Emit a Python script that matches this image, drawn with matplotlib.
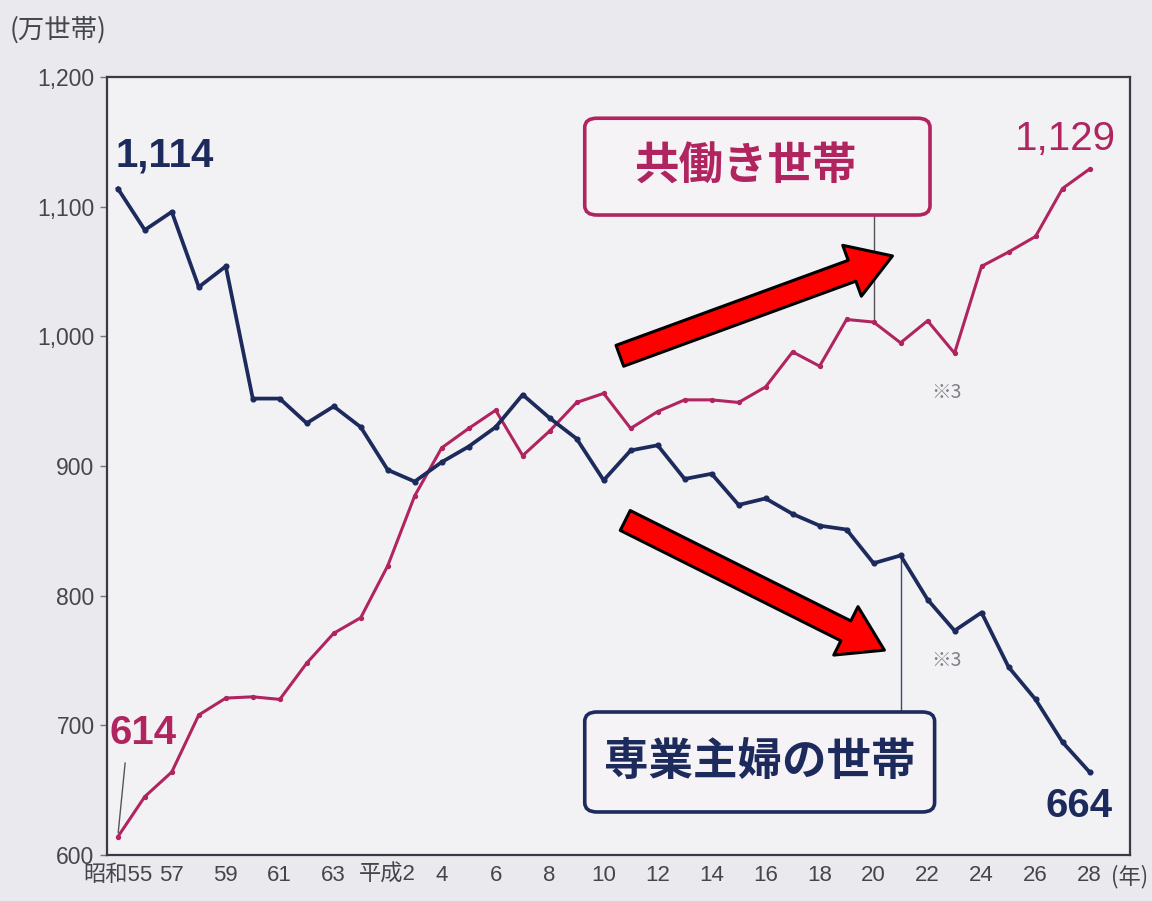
import matplotlib
matplotlib.use("Agg")
import matplotlib.pyplot as plt
from matplotlib import font_manager
from matplotlib.patches import FancyBboxPatch

# ---- data (万世帯) ----
years = list(range(37))  # 昭和55 (1980) .. 平成28 (2016)
dual_income = [614, 645, 664, 708, 721, 722, 720, 748, 771, 783, 823, 877, 914, 929,
               943, 908, 927, 949, 956, 929, 942, 951, 951, 949, 961, 988, 977, 1013,
               1011, 995, 1012, 987, 1054, 1065, 1077, 1114, 1129]
housewife = [1114, 1082, 1096, 1038, 1054, 952, 952, 933, 946, 930, 897, 888, 903, 915,
             930, 955, 937, 921, 889, 912, 916, 890, 894, 870, 875, 863, 854, 851,
             825, 831, 797, 773, 787, 745, 720, 687, 664]
tick_pos = list(range(0, 37, 2))
tick_labels = ["昭和55", "57", "59", "61", "63", "平成2", "4", "6", "8", "10", "12",
               "14", "16", "18", "20", "22", "24", "26", "28"]
y_ticks = [600, 700, 800, 900, 1000, 1100, 1200]
y_tick_labels = ["600", "700", "800", "900", "1,000", "1,100", "1,200"]

NAVY = "#1c2a5c"
MAGENTA = "#b0245f"
GREY = "#45454c"

available = {f.name for f in font_manager.fontManager.ttflist}
narrow = "Liberation Sans Narrow" if "Liberation Sans Narrow" in available else "Liberation Sans"
big_size = 34 if narrow == "Liberation Sans Narrow" else 29
JP = "Noto Sans CJK JP"
plt.rcParams["font.family"] = ["Liberation Sans", JP, "DejaVu Sans"]

fig = plt.figure(figsize=(11.52, 9.01), dpi=100, facecolor="#e9e9ee")
ax = fig.add_axes([107 / 1152, 1 - 855 / 901, 1023 / 1152, 778 / 901])
ax.set_facecolor("#f2f2f5")

ax.plot(years, housewife, color=NAVY, lw=2.7, marker="o", ms=3.4, zorder=4)
ax.plot(years, dual_income, color=MAGENTA, lw=2.2, marker="o", ms=2.8, zorder=3)

ax.set_xlim(-0.4, 37.5)
ax.set_ylim(600, 1200)
ax.set_xticks(tick_pos)
ax.set_xticklabels(tick_labels, family=["Liberation Sans", JP], fontsize=16, color=GREY)
ax.set_yticks(y_ticks)
ax.set_yticklabels(y_tick_labels, fontsize=16.5, color=GREY)
ax.tick_params(axis="x", length=0, pad=7)
ax.tick_params(axis="y", length=5, width=1, color="#777", pad=4)
for s in ax.spines.values():
    s.set_color("#3a3a44")
    s.set_linewidth(1.6)

fig.text(10 / 1152, 1 - 30 / 901, "(万世帯)", family=[JP], fontsize=19, color=GREY,
         ha="left", va="center")
ax.annotate("(年)", xy=(1.0, 0), xycoords="axes fraction", xytext=(0, -7),
            textcoords="offset points", ha="center", va="top",
            family=[JP], fontsize=16, color=GREY)

# end-point value labels
ax.annotate(f"{housewife[0]:,}", xy=(years[0], housewife[0]), xytext=(-2, 16),
            textcoords="offset points", ha="left", va="baseline",
            family=[narrow], fontweight="bold", fontsize=big_size, color=NAVY)
ax.annotate(f"{dual_income[0]:,}", xy=(years[0], dual_income[0]),
            xytext=(-6, 67), textcoords="offset points", ha="left", va="baseline",
            family=[narrow], fontweight="bold", fontsize=big_size, color=MAGENTA,
            arrowprops=dict(arrowstyle="-", color="#555", lw=1.0,
                            relpos=(0.25, 0.0), shrinkA=6, shrinkB=3))
ax.annotate(f"{dual_income[-1]:,}", xy=(years[-1], dual_income[-1]), xytext=(19, 14),
            textcoords="offset points", ha="right", va="baseline",
            family=[narrow], fontsize=big_size, color=MAGENTA)
ax.annotate(f"{housewife[-1]:,}", xy=(years[-1], housewife[-1]), xytext=(17, -11),
            textcoords="offset points", ha="right", va="top",
            family=[narrow], fontweight="bold", fontsize=big_size, color=NAVY)

# series name boxes with leader lines
def name_box(x0, y0, x1, y1, text, color, dx=0.0):
    box = FancyBboxPatch((x0, y0), x1 - x0, y1 - y0,
                         boxstyle="round,pad=0,rounding_size=0.012",
                         transform=ax.transAxes, fc="#f6f3f6", ec=color, lw=2.6,
                         zorder=6)
    ax.add_patch(box)
    ax.text((x0 + x1) / 2 + dx, (y0 + y1) / 2, text, transform=ax.transAxes,
            ha="center", va="center", family=[JP], fontweight="bold",
            fontsize=32, color=color, zorder=7)

name_box(0.467, 0.8226, 0.8045, 0.947, "共働き世帯", MAGENTA, dx=-0.012)
name_box(0.467, 0.0553, 0.809, 0.1838, "専業主婦の世帯", NAVY)
ax.plot([years[28], years[28]], [dual_income[28], 600 + 0.8226 * 600],
        color="#55505a", lw=1.0, zorder=2)
ax.plot([years[29], years[29]], [housewife[29], 600 + 0.1838 * 600],
        color="#3a4a7a", lw=1.0, zorder=2)

# ※3 notes
ax.text(30.7, 957, "※3", family=[JP], fontsize=14, color="#808088", ha="center", va="center")
ax.text(30.7, 750, "※3", family=[JP], fontsize=14, color="#808088", ha="center", va="center")

# trend arrows
arrow_style = "simple,head_length=1.55,head_width=1.95,tail_width=0.8"
for start, tip in [((18.6, 985), (28.7, 1062)), ((18.8, 858), (28.4, 758))]:
    ax.annotate("", xy=tip, xytext=start,
                arrowprops=dict(arrowstyle=arrow_style, fc="#ff0000", ec="black",
                                lw=2.2, mutation_scale=20, shrinkA=0, shrinkB=0),
                zorder=8)

fig.savefig("out.png", dpi=100, facecolor=fig.get_facecolor())
